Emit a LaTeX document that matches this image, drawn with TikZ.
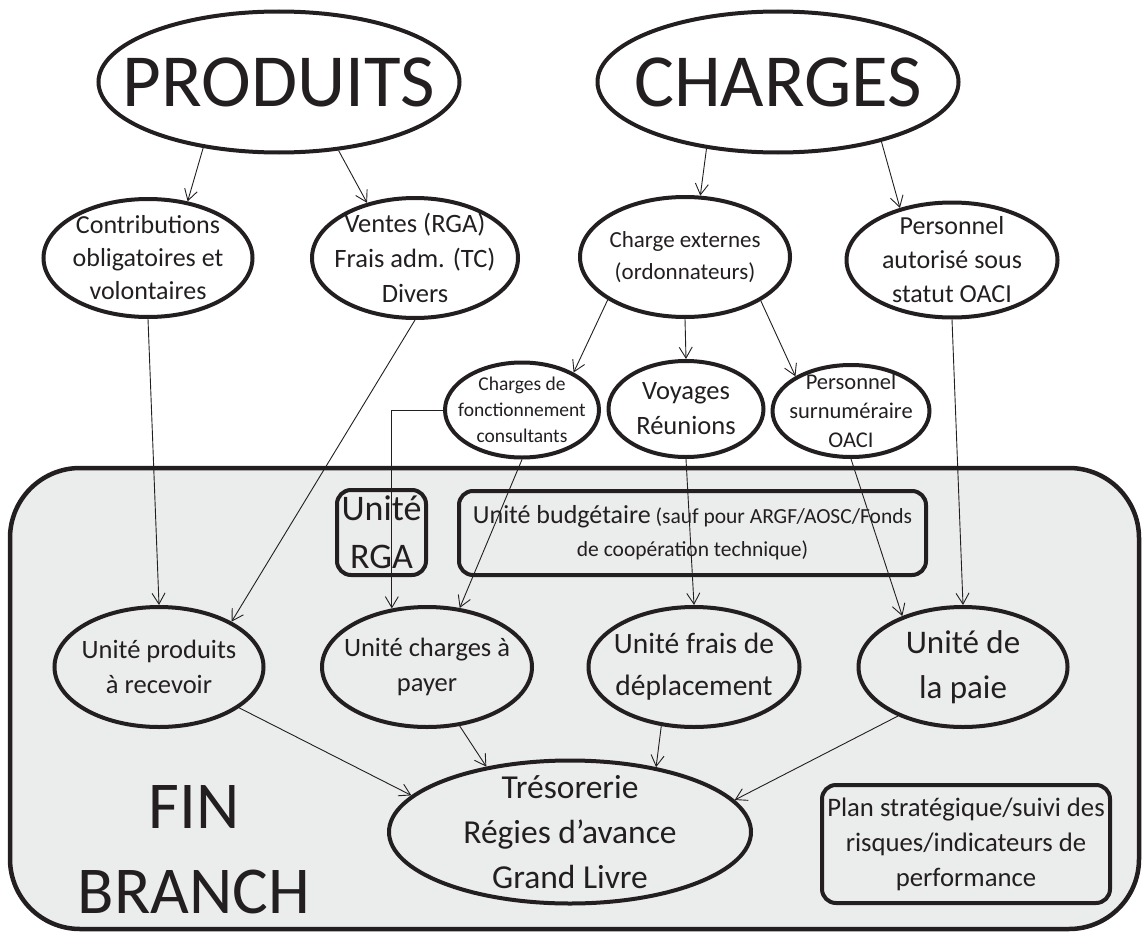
\documentclass[tikz,border=0pt]{standalone}
\usepackage{fontspec}
\setmainfont{Carlito}
\usepackage{tikz}
\usetikzlibrary{arrows.meta, shapes.geometric}

\definecolor{inkgray}{HTML}{231F20}
\definecolor{finfill}{HTML}{EBECEC}

\newcommand{\fsz}[2]{\fontsize{#1}{#2}\selectfont}

\begin{document}
\begin{tikzpicture}[x=1pt, y=-1pt, inkgray,
    bubble/.style={draw, ellipse, line width=4pt, inner sep=0pt},
    txt/.style={align=center, inner sep=0pt},
    unitbox/.style={draw, rounded corners=14pt, line width=4pt, inner sep=0pt, align=center},
    link/.style={-{Straight Barb[length=11pt, width=13pt]}, line width=0.9pt}]
    \useasboundingbox (0,0) rectangle (1143,934);

    % FIN branch frame
    \draw[line width=4.5pt, fill=finfill, rounded corners=70pt] (10,468) rectangle (1139,929);

    \node[bubble, minimum width=361pt, minimum height=141pt,
          label={[txt, font=\fsz{75}{80}]center:PRODUITS}] (prod) at (279,82) {};
    \node[bubble, minimum width=361pt, minimum height=141pt,
          label={[txt, font=\fsz{75}{80}]center:CHARGES}] (charg) at (778,82) {};

    \node[bubble, minimum width=209pt, minimum height=118pt,
          label={[txt, font=\fsz{26}{33}]center:Contributions\\obligatoires et\\volontaires}] (contrib) at (148,258) {};
    \node[bubble, minimum width=206pt, minimum height=120pt,
          label={[txt, font=\fsz{26.5}{35}]center:Ventes (RGA)\\Frais adm. (TC)\\Divers}] (ventes) at (415,258) {};
    \node[bubble, minimum width=210pt, minimum height=120pt,
          label={[txt, font=\fsz{23}{32}]center:Charge externes\\(ordonnateurs)}] (chext) at (685,257) {};
    \node[bubble, minimum width=211pt, minimum height=115pt,
          label={[txt, font=\fsz{26}{34}]center:Personnel\\autorisé sous\\statut OACI}] (persaut) at (952,260) {};

    \node[bubble, minimum width=154pt, minimum height=95pt,
          label={[txt, font=\fsz{19.5}{26}]center:Charges de\\fonctionnement\\consultants}] (chfonct) at (522,410) {};
    \node[bubble, minimum width=155pt, minimum height=96pt,
          label={[txt, font=\fsz{26.5}{35}]center:Voyages\\Réunions}] (voyages) at (686,409) {};
    \node[bubble, minimum width=157pt, minimum height=92pt,
          label={[txt, font=\fsz{22.5}{29}]center:Personnel\\surnuméraire\\OACI}] (perssurn) at (851,411) {};

    \node[unitbox, minimum width=89pt, minimum height=85pt, font=\fsz{36}{48}] (rga) at (381.5,532.5) {Unité\\RGA};
    \node[unitbox, minimum width=467pt, minimum height=84pt, font=\fsz{21.5}{33}] (budget) at (692.5,533)
        {{\fsz{26}{33}Unité budgétaire} (sauf pour ARGF/AOSC/Fonds\\de coopération technique)};

    \node[bubble, minimum width=209pt, minimum height=120pt,
          label={[txt, font=\fsz{26.5}{35}]center:Unité produits\\à recevoir}] (uprod) at (159,667) {};
    \node[bubble, minimum width=210pt, minimum height=120pt,
          label={[txt, font=\fsz{26.5}{35}]center:Unité charges à\\payer}] (ucharg) at (427,667) {};
    \node[bubble, minimum width=211pt, minimum height=120pt,
          label={[txt, font=\fsz{29.5}{42}]center:Unité frais de\\déplacement}] (ufrais) at (694,667) {};
    \node[bubble, minimum width=209pt, minimum height=120pt,
          label={[txt, font=\fsz{33}{45}]center:Unité de\\la paie}] (upaie) at (963,667) {};

    \node[bubble, minimum width=362pt, minimum height=143pt,
          label={[txt, font=\fsz{33.5}{45}]center:Trésorerie\\Régies d’avance\\Grand Livre}] (treso) at (570,832) {};
    \node[unitbox, minimum width=288pt, minimum height=118pt, font=\fsz{26.7}{35}] (plan) at (966,844) {Plan stratégique/suivi des\\risques/indicateurs de\\performance};
    \node[txt, font=\fsz{67}{85}] (fin) at (194,850) {FIN\\BRANCH};

    \draw[link] (prod.221) -- (contrib.55);
    \draw[link] (prod.311) -- (ventes.131);
    \draw[link] (charg.223) -- (chext.76);
    \draw[link] (charg.330) -- (persaut.135);
    \draw[link] (chext.209) -- (chfonct.36);
    \draw[link] (chext.south) -- (voyages.north);
    \draw[link] (chext.330) -- (perssurn.148);
    \draw[link] (contrib.south) -- (uprod.north);
    \draw[link] (ventes.south) -- (uprod.32);
    \draw[link] (chfonct.west) -| (ucharg.121);
    \draw[link] (chfonct.south) -- (ucharg.61);
    \draw[link] (voyages.south) -- (ufrais.north);
    \draw[link] (perssurn.south) -- (upaie.140);
    \draw[link] (persaut.south) -- (upaie.north);
    \draw[link] (uprod.333) -- (treso.167);
    \draw[link] (ucharg.299) -- (treso.142);
    \draw[link] (ufrais.241) -- (treso.37);
    \draw[link] (upaie.217) -- (treso.11);
\end{tikzpicture}
\end{document}
